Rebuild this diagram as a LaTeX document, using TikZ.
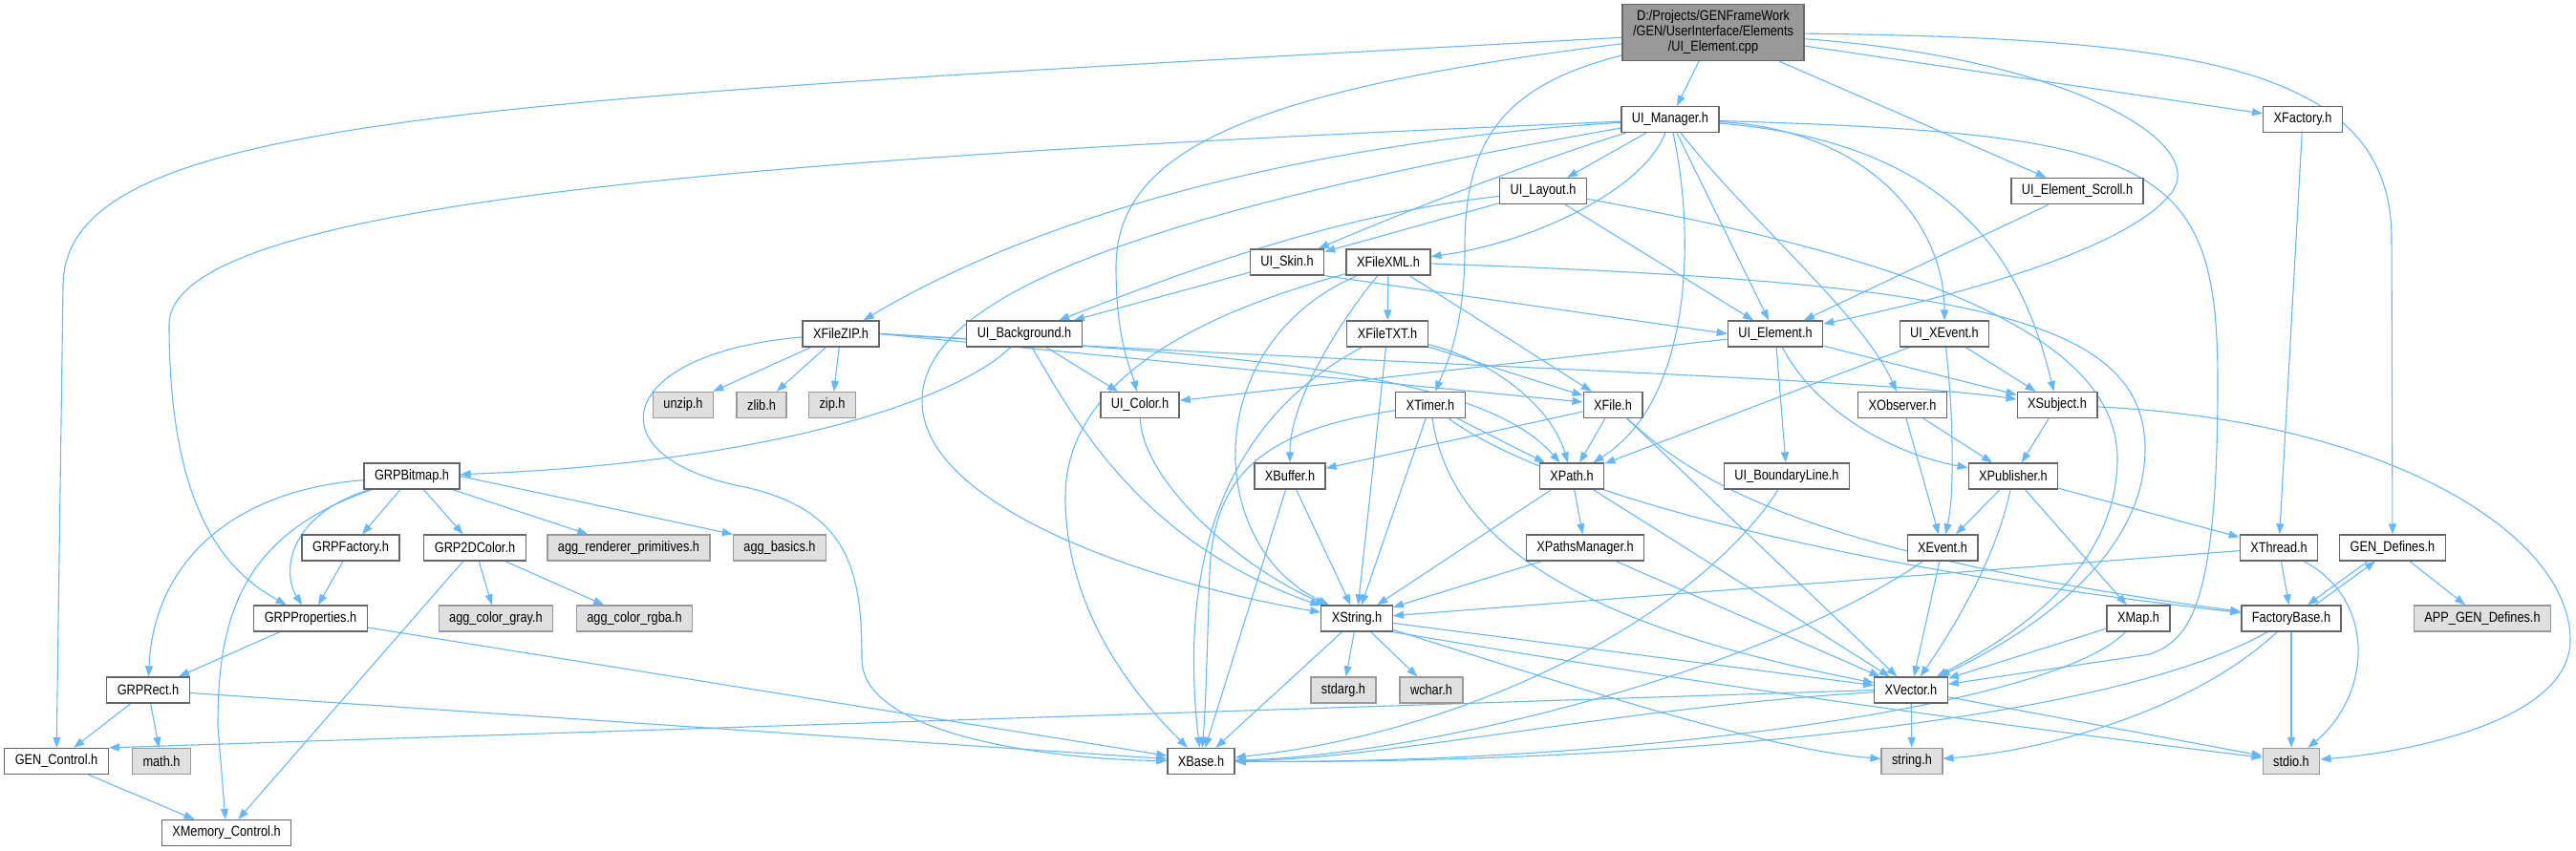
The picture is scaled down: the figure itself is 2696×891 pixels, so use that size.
\documentclass[tikz,border=0pt]{standalone}
\usepackage{fontspec}
\setmainfont{Liberation Sans}[FakeStretch=0.85]
\usepackage{tikz}
\usetikzlibrary{arrows.meta, backgrounds}
\definecolor{edgeblue}{HTML}{63B8FF}
\definecolor{boxline}{HTML}{666666}
\definecolor{sysline}{HTML}{999999}
\definecolor{sysfill}{HTML}{E0E0E0}
\definecolor{rootfill}{HTML}{999999}

\begin{document}
\begin{tikzpicture}[
    x=1bp, y=-1bp,
    hbox/.style={rectangle, draw=boxline, fill=white, line width=1.3bp, minimum height=27bp, inner xsep=11bp, inner ysep=0pt, font=\fontsize{15bp}{16bp}\selectfont},
    sysbox/.style={hbox, draw=sysline, fill=sysfill},
    rootbox/.style={hbox, fill=rootfill, align=center, minimum height=59bp},
    arrow/.style={-{Triangle[length=11bp, width=8bp]}, line width=1.1bp, draw=edgeblue}
]
\useasboundingbox (0,0) rectangle (2696,891);

% Top file
\node (root) [rootbox] at (1793,34) {D:/Projects/GENFrameWork\\/GEN/UserInterface/Elements\\/UI\_Element.cpp};

% Rows of headers
\node (uimanager) [hbox] at (1748,125) {UI\_Manager.h};
\node (xfactory) [hbox] at (2410,125) {XFactory.h};

\node (uilayout) [hbox] at (1615,200) {UI\_Layout.h};
\node (uielementscroll) [hbox] at (2174,200) {UI\_Element\_Scroll.h};

\node (uiskin) [hbox] at (1347,274.5) {UI\_Skin.h};
\node (xfilexml) [hbox] at (1453,274.5) {XFileXML.h};

\node (xfilezip) [hbox] at (880,349.5) {XFileZIP.h};
\node (uibackground) [hbox] at (1072,349.5) {UI\_Background.h};
\node (xfiletxt) [hbox] at (1452,349.5) {XFileTXT.h};
\node (uielement) [hbox] at (1858,349.5) {UI\_Element.h};
\node (uixevent) [hbox] at (2035,349.5) {UI\_XEvent.h};

\node (unzip) [sysbox] at (715,424) {unzip.h};
\node (zlib) [sysbox] at (797,424) {zlib.h};
\node (zip) [sysbox] at (871,424) {zip.h};
\node (uicolor) [hbox] at (1193,424) {UI\_Color.h};
\node (xtimer) [hbox] at (1497,424) {XTimer.h};
\node (xfile) [hbox] at (1688,424) {XFile.h};
\node (xobserver) [hbox] at (1991,424) {XObserver.h};
\node (xsubject) [hbox] at (2153,424) {XSubject.h};

\node (grpbitmap) [hbox] at (431,498.5) {GRPBitmap.h};
\node (xbuffer) [hbox] at (1350,498.5) {XBuffer.h};
\node (xpath) [hbox] at (1645,498.5) {XPath.h};
\node (uiboundaryline) [hbox] at (1870,498.5) {UI\_BoundaryLine.h};
\node (xpublisher) [hbox] at (2107,498.5) {XPublisher.h};

\node (grpfactory) [hbox] at (367,573.5) {GRPFactory.h};
\node (grptwodcolor) [hbox] at (497,573.5) {GRP2DColor.h};
\node (aggrenderer) [sysbox] at (658,573.5) {agg\_renderer\_primitives.h};
\node (aggbasics) [sysbox] at (816,573.5) {agg\_basics.h};
\node (xpathsmanager) [hbox] at (1659,573.5) {XPathsManager.h};
\node (xevent) [hbox] at (2033,573.5) {XEvent.h};
\node (xthread) [hbox] at (2385,573.5) {XThread.h};
\node (gendefines) [hbox] at (2504,573.5) {GEN\_Defines.h};

\node (grpproperties) [hbox] at (325,647.5) {GRPProperties.h};
\node (agggray) [sysbox] at (519,647.5) {agg\_color\_gray.h};
\node (aggrgba) [sysbox] at (664,647.5) {agg\_color\_rgba.h};
\node (xstring) [hbox] at (1420,647.5) {XString.h};
\node (xmap) [hbox] at (2238,647.5) {XMap.h};
\node (factorybase) [hbox] at (2398,647.5) {FactoryBase.h};
\node (appgendefines) [sysbox] at (2598,647.5) {APP\_GEN\_Defines.h};

\node (grprect) [hbox] at (155,722.5) {GRPRect.h};
\node (stdarg) [sysbox] at (1406,722.5) {stdarg.h};
\node (wchar) [sysbox] at (1498,722.5) {wchar.h};
\node (xvector) [hbox] at (2000,722.5) {XVector.h};

\node (gencontrol) [hbox] at (59,797) {GEN\_Control.h};
\node (mathh) [sysbox] at (169,797) {math.h};
\node (xbase) [hbox] at (1257,797) {XBase.h};
\node (stringh) [sysbox] at (2001,797) {string.h};
\node (stdio) [sysbox] at (2398,797) {stdio.h};

\node (xmemorycontrol) [hbox] at (237,872) {XMemory\_Control.h};

\begin{scope}[on background layer]
% UI_Element.cpp
\draw [arrow] (root) .. controls (500,105) and (66,120) .. (66,300) -- (gencontrol);
\draw [arrow] (root) .. controls (1300,95) and (1168,160) .. (1168,280) .. controls (1168,360) and (1185,390) .. (uicolor);
\draw [arrow] (root) .. controls (1570,90) and (1533,150) .. (1533,260) .. controls (1533,350) and (1510,390) .. (xtimer);
\draw [arrow] (root) -- (uimanager);
\draw [arrow] (root) -- (xfactory);
\draw [arrow] (root) -- (uielementscroll);
\draw [arrow] (root) .. controls (2160,60) and (2320,150) .. (2270,205) .. controls (2215,270) and (2000,320) .. (uielement);
\draw [arrow] (root) .. controls (2300,40) and (2503,70) .. (2503,250) -- (gendefines);

% UI_Manager.h
\draw [arrow] (uimanager) .. controls (800,165) and (177,210) .. (177,340) .. controls (177,540) and (240,600) .. (grpproperties);
\draw [arrow] (uimanager) .. controls (1350,150) and (1080,230) .. (xfilezip);
\draw [arrow] (uimanager) .. controls (1150,230) and (965,320) .. (965,420) .. controls (965,530) and (1200,610) .. (xstring);
\draw [arrow] (uimanager) -- (uilayout);
\draw [arrow] (uimanager) .. controls (1600,170) and (1450,230) .. (uiskin);
\draw [arrow] (uimanager) .. controls (1720,200) and (1600,255) .. (xfilexml);
\draw [arrow] (uimanager) .. controls (1775,250) and (1770,420) .. (xpath);
\draw [arrow] (uimanager) -- (uielement);
\draw [arrow] (uimanager) .. controls (1830,230) and (1950,330) .. (xobserver);
\draw [arrow] (uimanager) .. controls (1950,135) and (2035,230) .. (uixevent);
\draw [arrow] (uimanager) .. controls (2060,150) and (2120,290) .. (xsubject);
\draw [arrow] (uimanager) .. controls (2260,140) and (2321,170) .. (2321,400) .. controls (2321,640) and (2290,670) .. (2250,685) .. controls (2150,700) and (2080,710) .. (xvector);

% UI_Layout.h and UI_Skin.h
\draw [arrow] (uilayout) -- (uiskin);
\draw [arrow] (uilayout) .. controls (1400,225) and (1250,280) .. (uibackground);
\draw [arrow] (uilayout) -- (uielement);
\draw [arrow] (uilayout) .. controls (2000,270) and (2216,350) .. (2216,480) .. controls (2216,600) and (2100,670) .. (xvector);
\draw [arrow] (uiskin) -- (uibackground);
\draw [arrow] (uiskin.south east) -- (uielement.west);

% XFileXML.h
\draw [arrow] (xfilexml) -- (xfiletxt);
\draw [arrow] (xfilexml) -- (xfile);
\draw [arrow] (xfilexml) .. controls (2050,295) and (2245,330) .. (2245,470) .. controls (2245,590) and (2110,670) .. (xvector);
\draw [arrow] (xfilexml) .. controls (1400,340) and (1350,420) .. (xbuffer);
\draw [arrow] (xfilexml) .. controls (1255,360) and (1260,570) .. (xstring);
\draw [arrow] (xfilexml) .. controls (1250,330) and (1115,400) .. (1115,520) .. controls (1115,650) and (1200,740) .. (xbase);

% XFileTXT.h
\draw [arrow] (xfiletxt) -- (xfile);
\draw [arrow] (xfiletxt) .. controls (1570,380) and (1625,430) .. (xpath);
\draw [arrow] (xfiletxt) -- (xstring);
\draw [arrow] (xfiletxt) .. controls (1300,430) and (1230,560) .. (xbase);

% XFileZIP.h
\draw [arrow] (xfilezip) -- (unzip);
\draw [arrow] (xfilezip) -- (zlib);
\draw [arrow] (xfilezip) -- (zip);
\draw [arrow] (xfilezip) .. controls (640,370) and (620,480) .. (780,510) .. controls (890,535) and (902,600) .. (902,690) .. controls (902,770) and (1100,795) .. (xbase);
\draw [arrow] (xfilezip.east) -- (xfile);
\draw [arrow] (xfilezip.east) .. controls (1300,370) and (1550,390) .. (xpath);
\draw [arrow] (xfilezip.east) .. controls (1400,380) and (1950,395) .. (xsubject);

% XFile.h and XTimer.h
\draw [arrow] (xfile) -- (xbuffer);
\draw [arrow] (xfile) -- (xpath);
\draw [arrow] (xfile) -- (xvector);
\draw [arrow] (xfile) .. controls (1780,510) and (1900,580) .. (factorybase);
\draw [arrow] (xtimer) -- (xpath);
\draw [arrow] (xtimer) -- (xstring);
\draw [arrow] (xtimer) .. controls (1520,580) and (1680,660) .. (xvector);
\draw [arrow] (xtimer) .. controls (1600,500) and (1850,585) .. (factorybase);
\draw [arrow] (xtimer) .. controls (1330,450) and (1270,490) .. (1266,600) .. controls (1263,690) and (1262,740) .. (xbase);

% XBuffer.h, XPath.h, XPathsManager.h
\draw [arrow] (xbuffer) -- (xstring);
\draw [arrow] (xbuffer) -- (xbase);
\draw [arrow] (xpath) -- (xpathsmanager);
\draw [arrow] (xpath) -- (xstring);
\draw [arrow] (xpath) -- (xvector);
\draw [arrow] (xpathsmanager) -- (xstring);
\draw [arrow] (xpathsmanager) -- (xvector);

% UI_Element.h, UI_XEvent.h and friends
\draw [arrow] (uielement) -- (uicolor);
\draw [arrow] (uielement) -- (uiboundaryline);
\draw [arrow] (uielement) .. controls (1900,430) and (1980,475) .. (xpublisher);
\draw [arrow] (uielement) -- (xsubject);
\draw [arrow] (uixevent) -- (xpath);
\draw [arrow] (uixevent) .. controls (2045,440) and (2045,520) .. (xevent);
\draw [arrow] (uixevent) -- (xsubject);
\draw [arrow] (uielementscroll) -- (uielement);
\draw [arrow] (xfactory) -- (xthread);
\draw [arrow] (uiboundaryline) .. controls (1780,640) and (1550,765) .. (xbase);

% Observer / publisher
\draw [arrow] (xobserver) -- (xpublisher);
\draw [arrow] (xobserver) -- (xevent);
\draw [arrow] (xsubject) -- (xpublisher);
\draw [arrow] (xsubject) .. controls (2500,440) and (2690,560) .. (2690,670) .. controls (2690,760) and (2500,790) .. (stdio);
\draw [arrow] (xpublisher) -- (xevent);
\draw [arrow] (xpublisher) .. controls (2090,580) and (2050,650) .. (xvector);
\draw [arrow] (xpublisher) -- (xmap);
\draw [arrow] (xpublisher) -- (xthread);
\draw [arrow] (xevent) -- (xvector);
\draw [arrow] (xevent) .. controls (1850,700) and (1500,790) .. (xbase);

% XThread.h, XMap.h, FactoryBase.h, GEN_Defines.h
\draw [arrow] (xthread) -- (xstring);
\draw [arrow] (xthread) -- (factorybase);
\draw [arrow] (xthread) .. controls (2490,630) and (2480,730) .. (stdio);
\draw [arrow] (xmap) -- (xvector);
\draw [arrow] (xmap) .. controls (2150,740) and (1700,800) .. (xbase);
\draw [arrow] (factorybase) .. controls (2200,760) and (1700,800) .. (xbase);
\draw [arrow] (factorybase) .. controls (2300,740) and (2150,785) .. (stringh);
\draw [arrow] (factorybase) -- (stdio);
\draw [arrow] ([xshift=-26bp]gendefines.south) -- ([xshift=17bp]factorybase.north);
\draw [arrow] ([xshift=25bp]factorybase.north) -- ([xshift=-18bp]gendefines.south);
\draw [arrow] (gendefines) -- (appgendefines);

% XString.h and XVector.h
\draw [arrow] (xstring) -- (stdarg);
\draw [arrow] (xstring) -- (wchar);
\draw [arrow] (xstring) -- (xbase);
\draw [arrow] (xstring) -- (xvector);
\draw [arrow] (xstring.south east) .. controls (1800,720) and (2100,760) .. (stdio);
\draw [arrow] (xstring) .. controls (1650,720) and (1850,785) .. (stringh);
\draw [arrow] (xvector) -- (stringh);
\draw [arrow] (xvector) -- (stdio);
\draw [arrow] (xvector) .. controls (1700,740) and (1450,795) .. (xbase);
\draw [arrow] (xvector.west) -- (gencontrol.north east);

% UI_Background.h and UI_Color.h
\draw [arrow] (uibackground) .. controls (1000,420) and (800,485) .. (grpbitmap);
\draw [arrow] (uibackground) -- (uicolor);
\draw [arrow] (uibackground) .. controls (1130,450) and (1200,570) .. (xstring);
\draw [arrow] (uicolor) .. controls (1195,500) and (1290,590) .. (xstring);

% Graphics
\draw [arrow] (grpbitmap) .. controls (230,515) and (160,600) .. (grprect);
\draw [arrow] (grpbitmap) .. controls (250,560) and (228,650) .. (228,760) -- (xmemorycontrol);
\draw [arrow] (grpbitmap) .. controls (300,540) and (295,600) .. (grpproperties);
\draw [arrow] (grpbitmap) -- (grpfactory);
\draw [arrow] (grpbitmap) -- (grptwodcolor);
\draw [arrow] (grpbitmap) -- (aggrenderer);
\draw [arrow] (grpbitmap.east) -- (aggbasics.north west);
\draw [arrow] (grpfactory) -- (grpproperties);
\draw [arrow] (grptwodcolor) -- (agggray);
\draw [arrow] (grptwodcolor) -- (aggrgba);
\draw [arrow] (grptwodcolor) -- (xmemorycontrol);
\draw [arrow] (grpproperties) -- (grprect);
\draw [arrow] (grpproperties) -- (xbase);
\draw [arrow] (grprect) -- (gencontrol);
\draw [arrow] (grprect) -- (mathh);
\draw [arrow] (grprect) -- (xbase);
\draw [arrow] (gencontrol) -- (xmemorycontrol);
\end{scope}

\end{tikzpicture}
\end{document}
